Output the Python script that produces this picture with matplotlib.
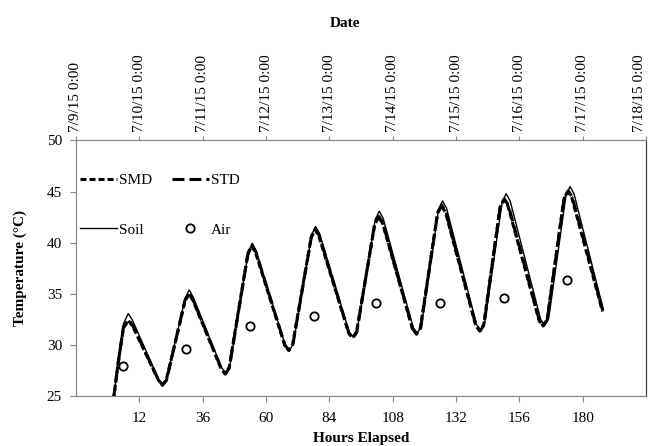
import matplotlib
matplotlib.use('Agg')
import matplotlib.pyplot as plt

plt.rcParams['font.family'] = ['Liberation Serif', 'DejaVu Serif']
plt.rcParams['lines.scale_dashes'] = False

# soil temperature (measured), thin solid line
hours_soil = [2.2, 4.0, 6.0, 7.8, 9.3, 19.3, 20.8, 22.3,
              29.4, 30.9, 32.4, 43.2, 44.7, 46.2,
              53.3, 54.8, 56.3, 67.3, 68.8, 70.3,
              77.3, 78.8, 80.3, 91.5, 93.0, 94.5,
              101.4, 102.9, 104.4, 115.8, 117.3, 118.8,
              125.4, 126.9, 128.4, 139.8, 141.3, 142.8,
              149.5, 151.0, 152.5, 164.1, 165.6, 167.1,
              173.7, 175.2, 176.7, 187.8]
temp_soil = [24.7, 28.5, 32.1, 33.1, 32.5, 26.7, 26.2, 26.7,
             34.6, 35.4, 34.7, 27.8, 27.3, 27.9,
             39.1, 39.95, 39.2, 30.0, 29.5, 30.1,
             40.8, 41.6, 40.9, 31.3, 30.8, 31.4,
             42.3, 43.1, 42.4, 31.7, 31.2, 31.8,
             43.3, 44.1, 43.4, 32.0, 31.5, 32.1,
             44.0, 44.8, 44.1, 32.5, 32.0, 32.6,
             44.7, 45.5, 44.8, 33.5]

# SMD model
hours_smd = [2.2, 4.0, 6.0, 7.9, 9.4, 19.2, 20.7, 22.2,
             29.3, 30.8, 32.3, 43.0, 44.5, 46.0,
             53.1, 54.6, 56.1, 67.1, 68.6, 70.1,
             77.1, 78.6, 80.1, 91.3, 92.8, 94.3,
             101.2, 102.7, 104.2, 115.5, 117.0, 118.5,
             125.0, 126.5, 128.0, 139.5, 141.0, 142.5,
             148.7, 150.2, 151.7, 163.5, 165.0, 166.5,
             172.9, 174.4, 175.9, 187.5]
temp_smd = [24.7, 28.3, 31.7, 32.4, 31.9, 26.6, 26.1, 26.6,
            34.3, 35.0, 34.4, 27.7, 27.2, 27.8,
            38.9, 39.7, 39.0, 30.0, 29.5, 30.1,
            40.5, 41.3, 40.6, 31.2, 30.7, 31.3,
            41.8, 42.5, 41.9, 31.6, 31.1, 31.7,
            42.9, 43.6, 43.0, 31.9, 31.4, 32.0,
            43.5, 44.2, 43.6, 32.4, 31.9, 32.5,
            44.3, 45.0, 44.4, 33.3]

# STD model
hours_std = [2.2, 4.0, 6.0, 7.9, 9.4, 19.3, 20.8, 22.3,
             29.3, 30.8, 32.3, 43.1, 44.6, 46.1,
             53.2, 54.7, 56.2, 67.2, 68.7, 70.2,
             77.2, 78.7, 80.2, 91.4, 92.9, 94.4,
             101.2, 102.7, 104.2, 115.6, 117.1, 118.6,
             125.1, 126.6, 128.1, 139.6, 141.1, 142.6,
             148.8, 150.3, 151.8, 163.6, 165.1, 166.6,
             173.0, 174.5, 176.0, 187.6]
temp_std = [24.7, 28.3, 31.8, 32.5, 32.0, 26.6, 26.1, 26.6,
            34.4, 35.1, 34.5, 27.7, 27.2, 27.8,
            39.0, 39.8, 39.1, 30.0, 29.5, 30.1,
            40.6, 41.4, 40.7, 31.2, 30.7, 31.3,
            41.9, 42.6, 42.0, 31.6, 31.1, 31.7,
            43.0, 43.7, 43.1, 31.9, 31.4, 32.0,
            43.6, 44.3, 43.7, 32.4, 31.9, 32.5,
            44.4, 45.1, 44.5, 33.4]

# air temperature
hours_air = [5.7, 29.6, 53.8, 78.2, 101.8, 126.0, 150.2, 174.2]
temp_air = [28.0, 29.65, 31.9, 32.9, 34.1, 34.1, 34.6, 36.35]

hour_ticks = [12, 36, 60, 84, 108, 132, 156, 180]
date_ticks = [-12, 12, 36, 60, 84, 108, 132, 156, 180, 204]
date_labels = ['7/9/15 0:00', '7/10/15 0:00', '7/11/15 0:00', '7/12/15 0:00',
               '7/13/15 0:00', '7/14/15 0:00', '7/15/15 0:00', '7/16/15 0:00',
               '7/17/15 0:00', '7/18/15 0:00']

fig = plt.figure(figsize=(6.5, 4.46), dpi=100)
ax = fig.add_axes([0.1169, 0.111, 0.877, 0.574])

l_smd, = ax.plot(hours_smd, temp_smd, color='black', lw=2.2, dashes=(4.3, 2.2), label='SMD')
l_std, = ax.plot(hours_std, temp_std, color='black', lw=2.2, dashes=(8.6, 3.6), label='STD')
l_soil, = ax.plot(hours_soil, temp_soil, color='black', lw=1.0, label='Soil', zorder=3)
l_air, = ax.plot(hours_air, temp_air, ls='none', marker='o', ms=6, mfc='none',
                 mec='black', mew=1.3, label='Air')

ax.set_xlim(-12, 204)
ax.set_ylim(25, 50)
ax.set_xticks(hour_ticks)
ax.set_yticks([25, 30, 35, 40, 45, 50])
ax.tick_params(axis='x', direction='out', length=4, color='#888888', labelsize=11, pad=7)
ax.tick_params(axis='y', direction='out', length=4, color='#888888', labelsize=11, pad=6)
for side in ['left', 'bottom', 'top']:
    ax.spines[side].set_color('#888888')
ax.spines['right'].set_color('#404040')

ax.set_xlabel('Hours Elapsed', fontsize=11, fontweight='bold')
ax.xaxis.set_label_coords(0.5, -0.138)
ax.set_ylabel('Temperature (°C)', fontsize=11, fontweight='bold')
ax.yaxis.set_label_coords(-0.086, 0.5)

ax2 = ax.twiny()
ax2.set_xlim(ax.get_xlim())
ax2.set_xticks(date_ticks)
ax2.set_xticklabels(date_labels, rotation=90)
ax2.tick_params(axis='x', direction='out', length=3, color='#888888', labelsize=11, pad=3)
# last date sits on the right edge, keep it inside the figure
ax2.get_xticklabels()[-1].set_horizontalalignment('right')
for side in ['left', 'bottom', 'top']:
    ax2.spines[side].set_color('#888888')
ax2.spines['right'].set_color('#404040')
ax2.set_xlabel('Date', fontsize=11, fontweight='bold')
ax2.xaxis.set_label_coords(0.472, 1.445)

ax.legend([l_smd, l_soil, l_std, l_air], ['SMD', 'Soil', 'STD', 'Air'],
          ncol=2, frameon=False, loc='upper left', bbox_to_anchor=(0.007, 0.872),
          fontsize=11, handlelength=2.4, handletextpad=0.15, columnspacing=1.3,
          labelspacing=2.35, borderpad=0, borderaxespad=0)

fig.savefig('out.png', dpi=100)
